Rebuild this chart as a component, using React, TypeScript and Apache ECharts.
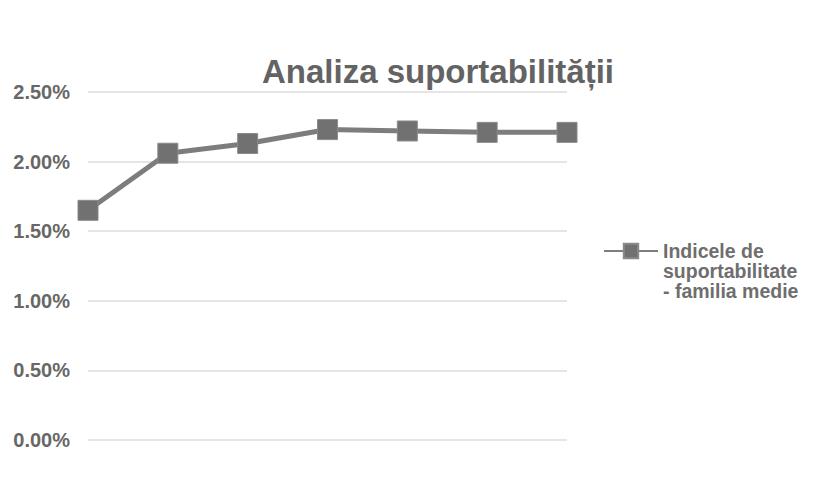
import React, { useEffect, useRef } from "react";
import * as echarts from "echarts";

const categories = ["1", "2", "3", "4", "5", "6", "7"];
const values = [1.65, 2.06, 2.13, 2.23, 2.22, 2.21, 2.21];
const seriesName = "Indicele de\nsuportabilitate\n- familia medie";
const titleText = "Analiza suportabilității";

export default function App() {
  const ref = useRef<HTMLDivElement>(null);
  useEffect(() => {
    const chart = echarts.init(ref.current!, null, { renderer: "svg" });
    chart.setOption({
      animation: false,
      backgroundColor: "#ffffff",
      title: {
        text: titleText,
        left: 433,
        textAlign: "center",
        top: 50,
        textStyle: {
          fontFamily: "Liberation Sans, Arial, sans-serif",
          fontWeight: "bold",
          fontSize: 33,
          color: "#636363",
        },
      },
      legend: {
        left: 598,
        top: 196,
        orient: "vertical",
        itemWidth: 54,
        itemHeight: 18,
        itemGap: 8,
        formatter: (name: string) => "\n\n" + name,
        textStyle: {
          fontFamily: "Liberation Sans, Arial, sans-serif",
          fontWeight: "bold",
          fontSize: 19.5,
          lineHeight: 20,
          color: "#6e6e6e",
        },
        data: [seriesName],
      },
      grid: { left: 88, right: 269, top: 92, bottom: 48 },
      xAxis: {
        type: "category",
        data: categories,
        boundaryGap: false,
        axisLine: { show: false },
        axisTick: { show: false },
        axisLabel: { show: false },
      },
      yAxis: {
        type: "value",
        min: 0,
        max: 2.5,
        interval: 0.5,
        axisLine: { show: false },
        axisTick: { show: false },
        splitLine: { lineStyle: { color: "#dcdcdc", width: 1.5 } },
        axisLabel: {
          formatter: (v: number) => v.toFixed(2) + "%",
          fontFamily: "Liberation Sans, Arial, sans-serif",
          fontWeight: "bold",
          fontSize: 20,
          color: "#676767",
          margin: 18,
        },
      },
      series: [
        {
          name: seriesName,
          type: "line",
          data: values,
          symbol: "rect",
          symbolSize: 20,
          lineStyle: { color: "#7d7d7d", width: 5 },
          itemStyle: { color: "#717171", borderColor: "#8a8a8a", borderWidth: 1 },
        },
      ],
    });
    return () => chart.dispose();
  }, []);
  return <div ref={ref} style={{ width: 836, height: 488, margin: -8 }} />;
}
